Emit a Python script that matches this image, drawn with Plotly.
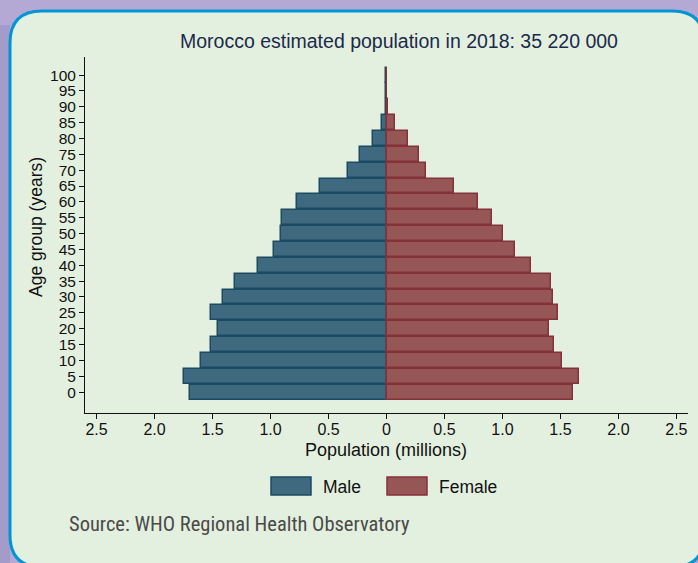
import plotly.graph_objects as go

ages = [0, 5, 10, 15, 20, 25, 30, 35, 40, 45, 50, 55, 60, 65, 70, 75, 80, 85, 90, 95, 100]
male = [1.698, 1.750, 1.598, 1.512, 1.457, 1.517, 1.411, 1.310, 1.104, 0.966, 0.909, 0.897,
        0.771, 0.575, 0.336, 0.228, 0.120, 0.035, 0.006, 0.003, 0.001]
female = [1.612, 1.660, 1.514, 1.445, 1.402, 1.479, 1.436, 1.419, 1.244, 1.109, 1.005, 0.910,
          0.790, 0.586, 0.341, 0.284, 0.184, 0.074, 0.015, 0.006, 0.002]
x_tickvals = [-2.5, -2.0, -1.5, -1.0, -0.5, 0, 0.5, 1.0, 1.5, 2.0, 2.5]
x_ticktext = ["2.5", "2.0", "1.5", "1.0", "0.5", "0", "0.5", "1.0", "1.5", "2.0", "2.5"]
y_tickvals = ages

MALE_FILL, MALE_LINE = "#3f697e", "#1d4a63"
FEM_FILL, FEM_LINE = "#965656", "#84323a"

W, H = 698, 563
L, R, T, B = 85, 10, 57, 150
PW, PH = W - L - R, H - T - B


def px(x):
    return (x - L) / PW


def py(y):
    return 1 - (y - T) / PH


fig = go.Figure()
fig.add_trace(go.Bar(
    y=ages, x=[-v for v in male], orientation="h", name="Male", width=4.7,
    marker=dict(color=MALE_FILL, line=dict(color=MALE_LINE, width=1.5)),
    customdata=male, hovertemplate="Age %{y}: %{customdata} M<extra>Male</extra>"))
fig.add_trace(go.Bar(
    y=ages, x=female, orientation="h", name="Female", width=4.7,
    marker=dict(color=FEM_FILL, line=dict(color=FEM_LINE, width=1.5)),
    hovertemplate="Age %{y}: %{x} M<extra>Female</extra>"))

# rounded panel
x0, x1, y0, y1, r = 10, 704, 11, 567, 32
path = (f"M {px(x0+r)},{py(y0)} L {px(x1-r)},{py(y0)} Q {px(x1)},{py(y0)} {px(x1)},{py(y0+r)} "
        f"L {px(x1)},{py(y1-r)} Q {px(x1)},{py(y1)} {px(x1-r)},{py(y1)} "
        f"L {px(x0+r)},{py(y1)} Q {px(x0)},{py(y1)} {px(x0)},{py(y1-r)} "
        f"L {px(x0)},{py(y0+r)} Q {px(x0)},{py(y0)} {px(x0+r)},{py(y0)} Z")
shapes = [
    dict(type="rect", xref="paper", yref="paper", x0=px(-5), x1=px(10), y0=py(570), y1=py(25),
         fillcolor="#a39bc9", line=dict(width=0), layer="below"),
    dict(type="path", xref="paper", yref="paper", path=path, fillcolor="#e4f0df",
         line=dict(color="#0096d6", width=3), layer="below"),
    # legend swatches
    dict(type="rect", xref="paper", yref="paper", x0=px(271), x1=px(311), y0=py(495), y1=py(477),
         fillcolor=MALE_FILL, line=dict(color=MALE_LINE, width=1.5)),
    dict(type="rect", xref="paper", yref="paper", x0=px(387), x1=px(427), y0=py(495), y1=py(477),
         fillcolor=FEM_FILL, line=dict(color=FEM_LINE, width=1.5)),
]

font = "Liberation Sans, Arial, Helvetica, sans-serif"
annotations = [
    dict(text="Morocco estimated population in 2018: 35 220 000", x=px(399), y=py(41),
         xref="paper", yref="paper", showarrow=False, xanchor="center", yanchor="middle",
         font=dict(family=font, size=19.5, color="#1b2a4a")),
    dict(text="Population (millions)", x=px(386), y=py(450), xref="paper", yref="paper",
         showarrow=False, xanchor="center", yanchor="middle", font=dict(family=font, size=18, color="#111")),
    dict(text="Age group (years)", x=px(36), y=py(227), xref="paper", yref="paper", textangle=-90,
         showarrow=False, xanchor="center", yanchor="middle", font=dict(family=font, size=17.5, color="#111")),
    dict(text="Male", x=px(321), y=py(487), xref="paper", yref="paper", showarrow=False,
         xanchor="left", yanchor="middle", font=dict(family=font, size=17.5, color="#111")),
    dict(text="Female", x=px(437), y=py(487), xref="paper", yref="paper", showarrow=False,
         xanchor="left", yanchor="middle", font=dict(family=font, size=17.5, color="#111")),
    dict(text="Source: WHO Regional Health Observatory", x=px(67), y=py(524), xref="paper", yref="paper",
         showarrow=False, xanchor="left", yanchor="middle",
         font=dict(family="Liberation Sans Narrow, Roboto Condensed, DejaVu Sans Condensed, sans-serif",
                   size=20.5, color="#4a4a4a")),
]

fig.update_layout(
    width=W, height=H, margin=dict(l=L, r=R, t=T, b=B),
    paper_bgcolor="#b4a9d4", plot_bgcolor="rgba(0,0,0,0)",
    barmode="relative", bargap=0, showlegend=False,
    shapes=shapes, annotations=annotations,
    font=dict(family=font, size=16, color="#111"),
    xaxis=dict(range=[-2.6, 2.6], tickvals=x_tickvals, ticktext=x_ticktext, showgrid=False,
               zeroline=False, showline=True, linecolor="#111", linewidth=1,
               ticks="outside", ticklen=5, tickcolor="#111", tickfont=dict(size=16),
               ticklabelstandoff=-3),
    yaxis=dict(range=[-6.6, 105.7], tickvals=y_tickvals, showgrid=False, zeroline=False,
               showline=True, linecolor="#111", linewidth=1, ticks="outside", ticklen=5,
               tickcolor="#111", tickfont=dict(size=15.5)),
)

fig.write_html("out.html", post_script="document.body.style.margin='0px';",
               config={"displayModeBar": False})
